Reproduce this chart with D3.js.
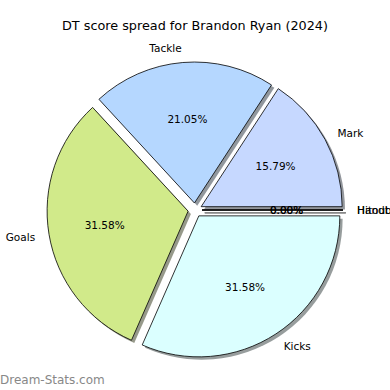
<!DOCTYPE html>
<html>
<head>
<meta charset="utf-8">
<script src="https://cdn.jsdelivr.net/npm/d3@7"></script>
<style>
  body { margin: 0; background: #fff; }
  text { font-family: "DejaVu Sans", sans-serif; }
</style>
</head>
<body>
<svg id="chart" width="390" height="390"></svg>
<script>
// DT points per stat type
var categories = ['Hitouts', 'Mark', 'Tackle', 'Goals', 'Kicks', 'Handball'];
var values = [0, 3, 4, 6, 6, 0];
var colors = ['#ffd9b5', '#c6d8ff', '#b5d7ff', '#d1ea8a', '#dbffff', '#ffc6e0'];
var title = 'DT score spread for Brandon Ryan (2024)';

var W = 390, H = 390,
    cx = 195, cy = 210,
    radius = 141,
    explode = 7,
    shadowOff = 2.8;

var svg = d3.select('#chart');

// matplotlib style: start at 3 o'clock, go counter-clockwise
var pie = d3.pie()
    .sort(null)
    .value((d) => d.value)
    .startAngle(Math.PI / 2)
    .endAngle(Math.PI / 2 - 2 * Math.PI);

var arc = d3.arc().innerRadius(0).outerRadius(radius);

var data = categories.map((c, i) => ({ name: c, value: values[i], color: colors[i] }));
var arcs = pie(data);
var total = d3.sum(values);

function dir(d) {
  var a = (d.startAngle + d.endAngle) / 2;
  return [Math.sin(a), -Math.cos(a)];
}

var g = svg.append('g').attr('transform', 'translate(' + cx + ',' + cy + ')');

// shadows first
g.selectAll('path.shadow')
  .data(arcs)
  .enter()
  .append('path')
    .attr('class', 'shadow')
    .attr('d', arc)
    .attr('fill', (d) => {
      var c = d3.rgb(d.data.color);
      return d3.rgb(c.r * 0.3, c.g * 0.3, c.b * 0.3).toString();
    })
    .attr('fill-opacity', 0.55)
    .attr('stroke', (d) => d.data.value === 0 ? '#888' : 'none')
    .attr('stroke-width', 1)
    .attr('transform', (d) => {
      var v = dir(d);
      return 'translate(' + (v[0] * explode + shadowOff) + ',' + (v[1] * explode + shadowOff) + ')';
    });

g.selectAll('path.wedge')
  .data(arcs)
  .enter()
  .append('path')
    .attr('class', 'wedge')
    .attr('d', arc)
    .attr('fill', (d) => d.data.color)
    .attr('stroke', '#000')
    .attr('stroke-width', 0.8)
    .attr('stroke-linejoin', 'miter')
    .attr('transform', (d) => {
      var v = dir(d);
      return 'translate(' + v[0] * explode + ',' + v[1] * explode + ')';
    });

// category labels
g.selectAll('text.label')
  .data(arcs)
  .enter()
  .append('text')
    .attr('class', 'label')
    .attr('x', (d) => dir(d)[0] * (explode + radius * 1.1))
    .attr('y', (d) => dir(d)[1] * (explode + radius * 1.1))
    .attr('text-anchor', (d) => dir(d)[0] > 0 ? 'start' : 'end')
    .attr('dominant-baseline', 'central')
    .attr('font-size', '10.5px')
    .text((d) => d.data.name);

// percentages
g.selectAll('text.pct')
  .data(arcs)
  .enter()
  .append('text')
    .attr('class', 'pct')
    .attr('x', (d) => dir(d)[0] * (explode + radius * 0.6))
    .attr('y', (d) => dir(d)[1] * (explode + radius * 0.6))
    .attr('text-anchor', 'middle')
    .attr('dominant-baseline', 'central')
    .attr('font-size', '10.5px')
    .text((d) => (d.data.value / total * 100).toFixed(2) + '%');

svg.append('text')
  .attr('x', W / 2)
  .attr('y', 25)
  .attr('text-anchor', 'middle')
  .attr('dominant-baseline', 'central')
  .attr('font-size', '12.8px')
  .text(title);

svg.append('text')
  .attr('x', 0)
  .attr('y', 380)
  .attr('dominant-baseline', 'central')
  .attr('font-size', '12px')
  .attr('fill', '#888')
  .text('Dream-Stats.com');
</script>
</body>
</html>
